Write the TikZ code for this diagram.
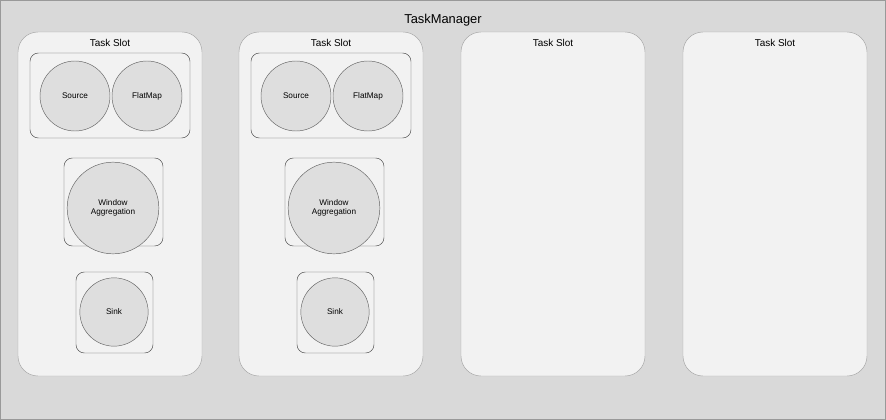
\documentclass[tikz,border=0pt]{standalone}
\usepackage{fontspec}
\setmainfont{Liberation Sans}
\usetikzlibrary{positioning}
\definecolor{bggray}{HTML}{D9D9D9}
\definecolor{slotfill}{HTML}{F2F2F2}
\definecolor{opfill}{HTML}{DEDEDE}
\tikzset{
  slot/.style={draw=gray!70, fill=slotfill, rounded corners=0.6cm},
  group/.style={draw=black!70, fill=slotfill, rounded corners=0.25cm},
  op/.style={circle, draw=black!60, fill=opfill, font=\fontsize{7}{8}\selectfont, align=center, inner sep=0pt}
}
\begin{document}
\begin{tikzpicture}[x=0.03cm, y=-0.03cm]
            \useasboundingbox (0,0) rectangle (886,420);
            \draw[draw=gray!80, fill=bggray] (0.5,0.5) rectangle (885.5,419.5);
            \node (tm) at (443,20) {\fontsize{11}{12}\selectfont TaskManager};
            \foreach \i/\x in {1/0,2/221,3/443,4/665} {
                \draw[slot] (18+\x,32) rectangle (202+\x,376);
                \node (title\i) at (110+\x,43) {\fontsize{8.5}{9}\selectfont Task Slot};
            }
            \foreach \i/\x in {1/0,2/221} {
                \draw[group] (30+\x,53) rectangle (190+\x,138);
                \node[op, minimum size=2.1cm] (source\i) at (75+\x,96) {Source};
                \node[op, minimum size=2.1cm] (flatmap\i) at (147+\x,96) {FlatMap};
                \draw[group] (64+\x,158) rectangle (163+\x,246);
                \node[op, minimum size=2.75cm] (window\i) at (113+\x,208) {Window\\Aggregation};
                \draw[group] (76+\x,272) rectangle (153+\x,353);
                \node[op, minimum size=2.05cm] (sink\i) at (114+\x,312) {Sink};
            }
        \end{tikzpicture}
\end{document}
